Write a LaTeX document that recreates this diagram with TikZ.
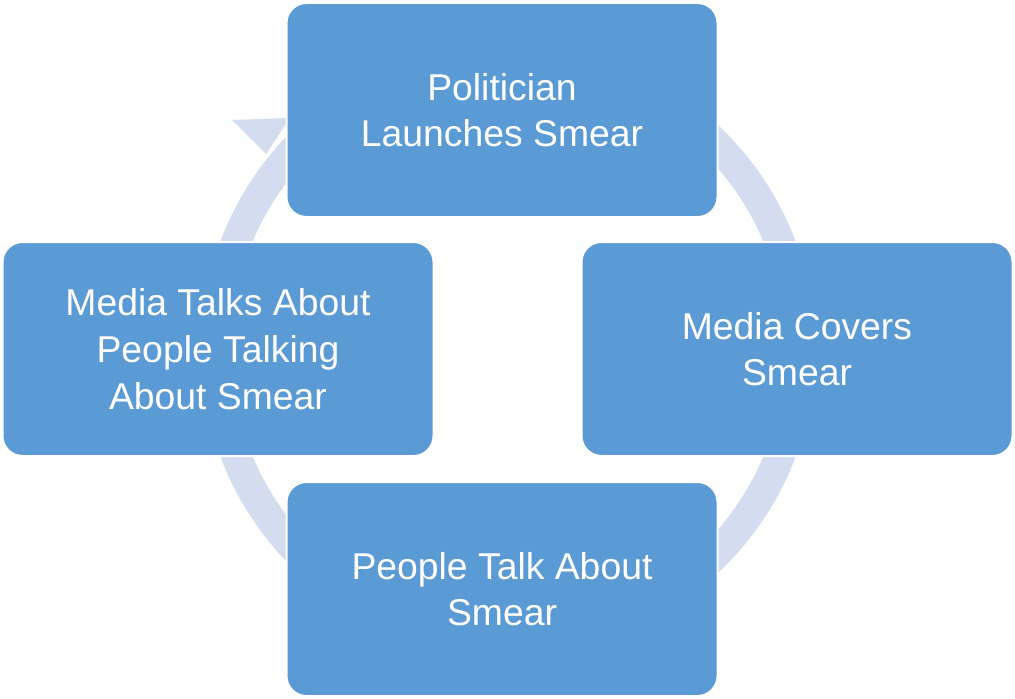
\documentclass[tikz,border=0pt]{standalone}
\usepackage{fontspec}
\setmainfont{Liberation Sans}
\begin{document}
\begin{tikzpicture}[x=0.75pt,y=-0.75pt,
  stage/.style={draw=white,line width=1.5pt,fill=boxblue,rounded corners=15pt,minimum width=431*0.75pt,minimum height=214*0.75pt,text=white,align=center,font=\fontsize{28}{35}\selectfont},
  ringc/.style={draw=ringblue,line width=22.5pt}]
\definecolor{boxblue}{HTML}{5B9BD5}
\definecolor{ringblue}{HTML}{D3DDEF}
\useasboundingbox (0,0) rectangle (1015,699);
\draw[ringc] (508,349) circle[radius=292];
\coordinate (tip) at (290,118);
\fill[ringblue] (tip) -- ++(-58,2) -- ++(34,34) -- cycle;
\node[stage] (top) at (502,110) {Politician\\Launches Smear};
\node[stage] (right) at (797,349) {Media Covers\\Smear};
\node[stage] (bottom) at (502,589) {People Talk About\\Smear};
\node[stage] (left) at (218,349) {Media Talks About\\People Talking\\About Smear};
\end{tikzpicture}
\end{document}
